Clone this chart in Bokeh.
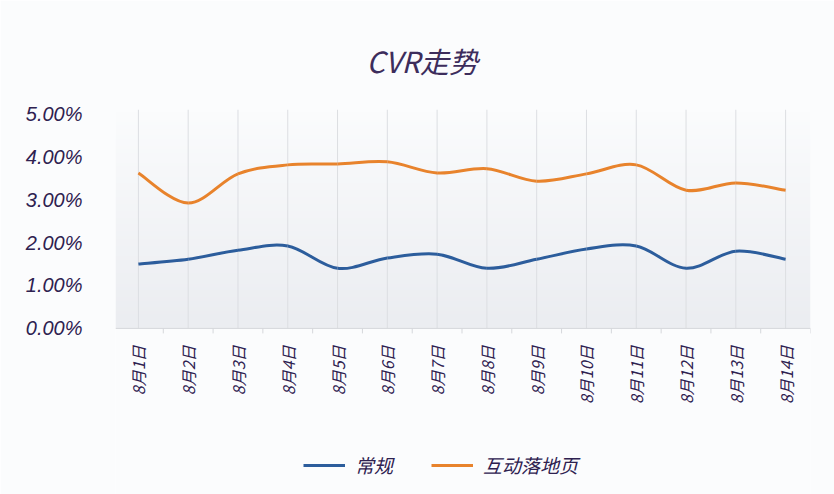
import numpy as np
from bokeh.plotting import figure
from bokeh.models import Range1d, FixedTicker, Legend, LegendItem
from bokeh.core.properties import value
from bokeh.embed import file_html
from bokeh.resources import INLINE

# ---- data ----
dates = ["8月1日", "8月2日", "8月3日", "8月4日", "8月5日", "8月6日", "8月7日",
         "8月8日", "8月9日", "8月10日", "8月11日", "8月12日", "8月13日", "8月14日"]
regular = [1.50, 1.61, 1.82, 1.92, 1.40, 1.64, 1.73, 1.40, 1.61, 1.85, 1.92, 1.40, 1.80, 1.61]
interactive = [3.62, 2.92, 3.60, 3.81, 3.83, 3.88, 3.62, 3.72, 3.43, 3.60, 3.81, 3.22, 3.39, 3.22]
series_names = ["常规", "互动落地页"]
y_ticks = [0, 1, 2, 3, 4, 5]

BLUE = "#2c5d9c"
ORANGE = "#e8832c"
TXT = "#2e2150"
BG = "#fbfcfd"

xs = np.arange(len(dates), dtype=float)
Y_TOP = 5.1
Y_BOT = -3.87          # space below the axis for the rotated labels and the legend
PX = 385 / (Y_TOP - Y_BOT)   # pixels per data unit (for style offsets)

p = figure(frame_width=695, frame_height=385, output_backend="svg", toolbar_location=None,
           x_range=Range1d(-0.46, 13.5), y_range=Range1d(Y_BOT, Y_TOP),
           x_axis_location=None,
           min_border_left=115, min_border_right=24, min_border_top=109,
           min_border_bottom=0, background_fill_color=BG,
           border_fill_color=BG, outline_line_color=None)

# soft vertical gradient in the plotting area (0 .. Y_TOP)
H = 64
t = np.linspace(0, 1, H)[:, None]  # bottom->top
top = np.array([251, 252, 253]); bot = np.array([235, 237, 241])
cols = (bot + (top - bot) * t).astype(np.uint8)
img = np.zeros((H, 1, 4), dtype=np.uint8)
img[:, :, 0] = cols[:, 0:1]; img[:, :, 1] = cols[:, 1:2]; img[:, :, 2] = cols[:, 2:3]; img[:, :, 3] = 255
img32 = img.view(dtype=np.uint32).reshape((H, 1))
p.image_rgba(image=[img32], x=-0.46, y=0, dw=13.96, dh=Y_TOP)

# vertical grid lines at each category
p.segment(x0=xs, y0=0, x1=xs, y1=Y_TOP, line_color="#dcdee2", line_width=1)

# x axis line and boundary ticks
bounds = np.arange(-0.5, len(dates), 1.0)
p.segment(x0=[-0.46], y0=[0], x1=[13.5], y1=[0], line_color="#d5d7db", line_width=1)
p.segment(x0=bounds, y0=0, x1=bounds, y1=-5 / PX, line_color="#d5d7db", line_width=1)

# rotated category labels
p.text(x=xs, y=-17 / PX, text=dates, angle=np.pi / 2, text_align="right",
       text_baseline="middle", text_font=value("Noto Sans CJK SC"),
       text_font_style="italic", text_font_size="16px", text_color=TXT)

# title
p.title.text = "CVR走势"
p.title.align = "left"
p.title.text_font = "Noto Sans CJK SC"
p.title.text_font_style = "italic"
p.title.text_font_size = "29px"
p.title.text_color = "#3d2d5c"
p.title.offset = 251
p.title.standoff = 58

# smooth curves via Catmull-Rom -> cubic bezier
def bez(xv, yv):
    xv = np.asarray(xv, float); yv = np.asarray(yv, float)
    n = len(xv)
    x0, y0, x1, y1, cx0, cy0, cx1, cy1 = ([] for _ in range(8))
    for i in range(n - 1):
        pm = i - 1 if i > 0 else i
        pp = i + 2 if i + 2 < n else i + 1
        x0.append(xv[i]); y0.append(yv[i]); x1.append(xv[i + 1]); y1.append(yv[i + 1])
        cx0.append(xv[i] + (xv[i + 1] - xv[pm]) / 6); cy0.append(yv[i] + (yv[i + 1] - yv[pm]) / 6)
        cx1.append(xv[i + 1] - (xv[pp] - xv[i]) / 6); cy1.append(yv[i + 1] - (yv[pp] - yv[i]) / 6)
    return dict(x0=x0, y0=y0, x1=x1, y1=y1, cx0=cx0, cy0=cy0, cx1=cx1, cy1=cy1)

ro = p.bezier(line_color=ORANGE, line_width=3, **bez(xs, interactive))
rb = p.bezier(line_color=BLUE, line_width=3, **bez(xs, regular))

legend = Legend(items=[LegendItem(label=series_names[0], renderers=[rb]),
                       LegendItem(label=series_names[1], renderers=[ro])],
                orientation="horizontal", location=(188, 16),
                background_fill_alpha=0, border_line_color=None,
                label_text_font="Noto Sans CJK SC", label_text_font_style="italic",
                label_text_font_size="19px", label_text_color=TXT,
                glyph_width=42, label_standoff=10, spacing=38, margin=0, padding=4)
p.add_layout(legend)

# y axis
ya = p.yaxis[0]
ya.ticker = FixedTicker(ticks=y_ticks)
ya.major_label_overrides = {v: f"{v:.2f}%" for v in y_ticks}
ya.major_label_text_font = "Liberation Sans"
ya.major_label_text_font_style = "italic"
ya.major_label_text_font_size = "20px"
ya.major_label_text_color = TXT
ya.major_label_standoff = 27
ya.axis_line_color = None
ya.major_tick_line_color = None
ya.minor_tick_line_color = None

p.xgrid.grid_line_color = None
p.ygrid.grid_line_color = None

open("out.html", "w").write(file_html(p, INLINE))
